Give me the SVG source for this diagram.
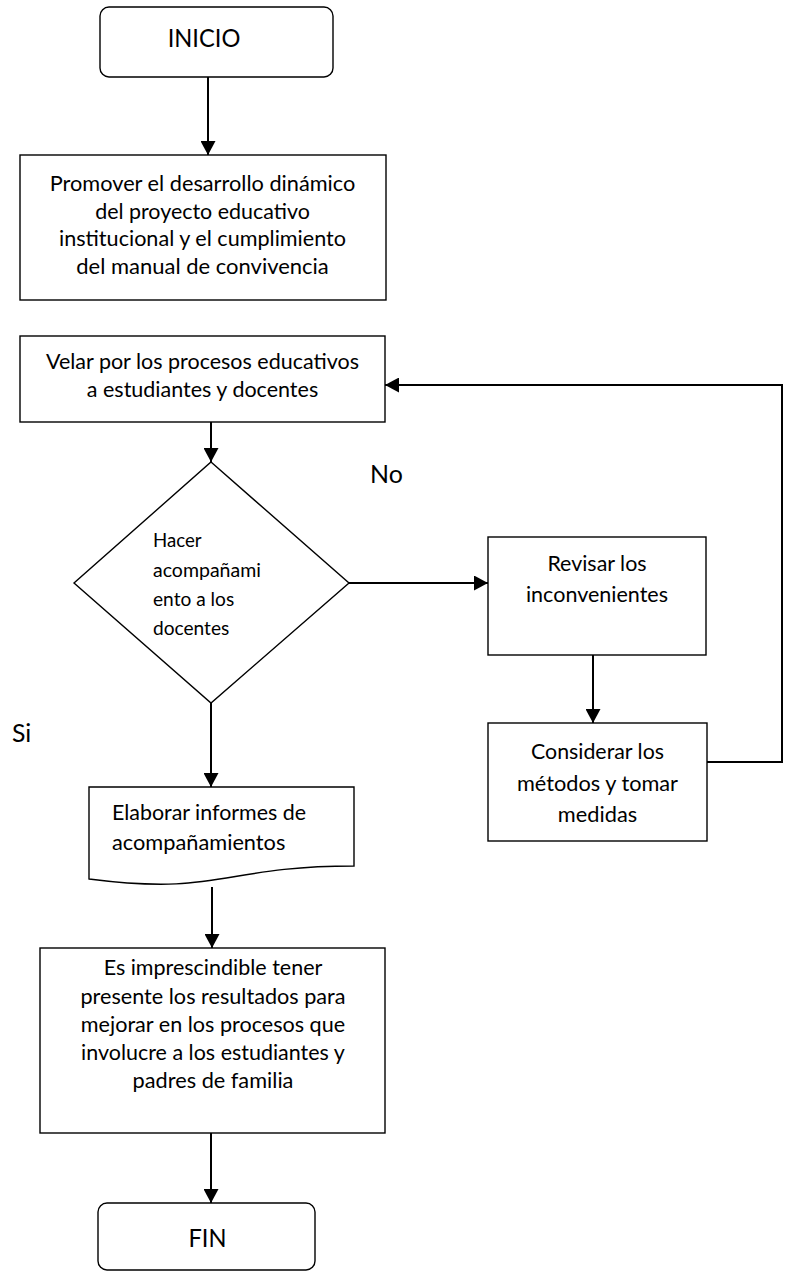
<svg xmlns="http://www.w3.org/2000/svg" width="786" height="1272" viewBox="0 0 786 1272">
<style>
.box{fill:#fff;stroke:#000;stroke-width:1.4}
.t{font-family:Lato,"Open Sans","Liberation Sans",sans-serif;font-size:20.5px;fill:#000}
.c{text-anchor:middle}
.big{font-size:25px}
.sm{font-size:18.5px}
.con{fill:none;stroke:#000;stroke-width:2}
</style>
<defs>
<marker id="ah" markerUnits="userSpaceOnUse" markerWidth="15" markerHeight="15" refX="14" refY="7.5" orient="auto" viewBox="0 0 15 15">
<path d="M0,0 L14,7.5 L0,15 z" fill="#000"/>
</marker>
</defs>
<rect width="786" height="1272" fill="#fff"/>
<g id="connectors">
<line class="con" x1="208" y1="77" x2="208" y2="155" marker-end="url(#ah)"/>
<line class="con" x1="211" y1="422" x2="211" y2="462" marker-end="url(#ah)"/>
<line class="con" x1="349" y1="583" x2="488" y2="583" marker-end="url(#ah)"/>
<line class="con" x1="593" y1="655" x2="593" y2="723" marker-end="url(#ah)"/>
<polyline class="con" points="707,762 782,762 782,385 385,385" marker-end="url(#ah)"/>
<line class="con" x1="211" y1="703" x2="211" y2="787" marker-end="url(#ah)"/>
<line class="con" x1="212" y1="887" x2="212" y2="948" marker-end="url(#ah)"/>
<line class="con" x1="211" y1="1133" x2="211" y2="1203" marker-end="url(#ah)"/>
</g>
<g id="inicio">
<rect class="box" x="100" y="7" width="233" height="70" rx="9"/>
<text class="t big c" x="204" y="47" textLength="72.7" lengthAdjust="spacingAndGlyphs">INICIO</text>
</g>
<g id="promover">
<rect class="box" x="20" y="155" width="366" height="145"/>
<text class="t c" x="202.5" y="191" textLength="305.5" lengthAdjust="spacingAndGlyphs">Promover el desarrollo dinámico</text>
<text class="t c" x="202.5" y="219" textLength="214.7" lengthAdjust="spacingAndGlyphs">del proyecto educativo</text>
<text class="t c" x="202.5" y="246" textLength="287" lengthAdjust="spacingAndGlyphs">institucional y el cumplimiento</text>
<text class="t c" x="202.5" y="274" textLength="252.5" lengthAdjust="spacingAndGlyphs">del manual de convivencia</text>
</g>
<g id="velar">
<rect class="box" x="20" y="336" width="365" height="86"/>
<text class="t c" x="202.5" y="369" textLength="313" lengthAdjust="spacingAndGlyphs">Velar por los procesos educativos</text>
<text class="t c" x="202.5" y="397" textLength="231.4" lengthAdjust="spacingAndGlyphs">a estudiantes y docentes</text>
</g>
<g id="decision">
<polygon class="box" points="211,462 349,583 211,703 74,583"/>
<text class="t sm" x="153" y="547" textLength="48.6" lengthAdjust="spacingAndGlyphs">Hacer</text>
<text class="t sm" x="153" y="577" textLength="107.9" lengthAdjust="spacingAndGlyphs">acompañami</text>
<text class="t sm" x="153" y="606" textLength="81.2" lengthAdjust="spacingAndGlyphs">ento a los</text>
<text class="t sm" x="153" y="635" textLength="76.3" lengthAdjust="spacingAndGlyphs">docentes</text>
</g>
<g id="label-no">
<text class="t big" x="370" y="483" textLength="32.8" lengthAdjust="spacingAndGlyphs">No</text>
</g>
<g id="label-si">
<text class="t big" x="12" y="742" textLength="19.3" lengthAdjust="spacingAndGlyphs">Si</text>
</g>
<g id="revisar">
<rect class="box" x="488" y="537" width="218" height="118"/>
<text class="t c" x="597" y="571" textLength="99.2" lengthAdjust="spacingAndGlyphs">Revisar los</text>
<text class="t c" x="597" y="602" textLength="142.1" lengthAdjust="spacingAndGlyphs">inconvenientes</text>
</g>
<g id="considerar">
<rect class="box" x="488" y="723" width="219" height="118"/>
<text class="t c" x="597.5" y="759" textLength="133" lengthAdjust="spacingAndGlyphs">Considerar los</text>
<text class="t c" x="597.5" y="791" textLength="161" lengthAdjust="spacingAndGlyphs">métodos y tomar</text>
<text class="t c" x="597.5" y="822" textLength="79.3" lengthAdjust="spacingAndGlyphs">medidas</text>
</g>
<g id="elaborar">
<path class="box" d="M89,787 H354 V866 C221.5,866 221.5,896 89,879 Z"/>
<text class="t" x="112" y="820" textLength="194" lengthAdjust="spacingAndGlyphs">Elaborar informes de</text>
<text class="t" x="112" y="850" textLength="173.4" lengthAdjust="spacingAndGlyphs">acompañamientos</text>
</g>
<g id="imprescindible">
<rect class="box" x="40" y="948" width="345" height="185"/>
<text class="t c" x="213" y="975" textLength="218.7" lengthAdjust="spacingAndGlyphs">Es imprescindible tener</text>
<text class="t c" x="213" y="1004" textLength="265.1" lengthAdjust="spacingAndGlyphs">presente los resultados para</text>
<text class="t c" x="213" y="1032" textLength="264.3" lengthAdjust="spacingAndGlyphs">mejorar en los procesos que</text>
<text class="t c" x="213" y="1060" textLength="263.8" lengthAdjust="spacingAndGlyphs">involucre a los estudiantes y</text>
<text class="t c" x="213" y="1088" textLength="160.8" lengthAdjust="spacingAndGlyphs">padres de familia</text>
</g>
<g id="fin">
<rect class="box" x="98" y="1203" width="217" height="67" rx="9"/>
<text class="t big c" x="207.5" y="1247" textLength="38" lengthAdjust="spacingAndGlyphs">FIN</text>
</g>
</svg>
